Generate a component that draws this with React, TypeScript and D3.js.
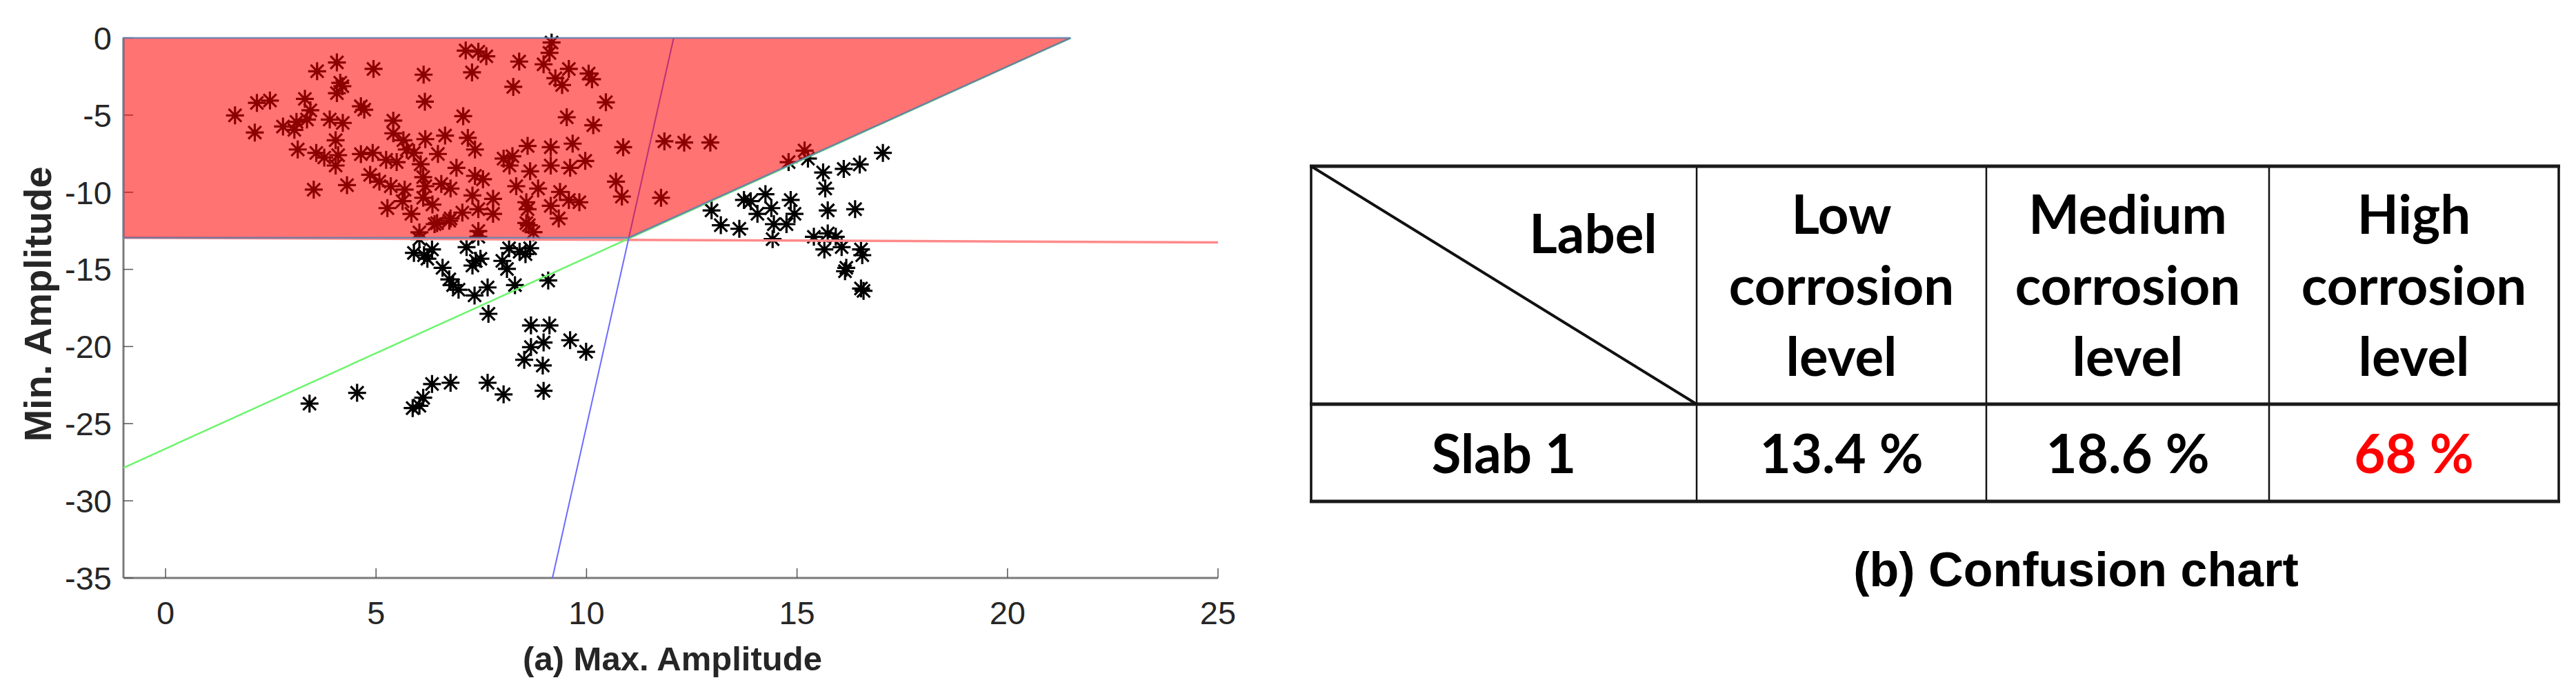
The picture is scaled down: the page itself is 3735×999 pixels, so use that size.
import React from 'react';
import * as d3 from 'd3';

const W = 3735;
const H = 999;

// ---------- data (a): scatter of (Max. Amplitude, Min. Amplitude) ----------
const upperPoints: [number, number][] = [
  [1.65, -5.02], [2.17, -4.21], [2.48, -4.06], [2.12, -6.13], [2.79, -5.74], [3.06, -5.96],
  [3.11, -5.44], [3.36, -5.29], [3.44, -4.69], [3.31, -3.95], [3.6, -2.16], [4.07, -1.59],
  [4.15, -2.91], [4.2, -3.13], [4.07, -3.58], [4.94, -2.01], [6.13, -2.38], [6.16, -4.13],
  [4.64, -4.43], [4.72, -4.65], [3.9, -5.29], [4.21, -5.51], [4.04, -6.63], [3.14, -7.23],
  [3.58, -7.45], [3.77, -7.75], [4.1, -7.6], [4.04, -8.27], [3.52, -9.83], [4.31, -9.54],
  [4.64, -7.53], [4.92, -7.45], [5.24, -7.9], [5.49, -8.05], [5.41, -5.36], [5.41, -6.18],
  [5.65, -6.63], [5.73, -7.23], [5.9, -7.45], [6.17, -6.56], [6.64, -6.33], [6.47, -7.52],
  [6.06, -8.19], [7.07, -5.07], [7.18, -6.48], [7.35, -7.23], [6.91, -8.42], [4.86, -8.87],
  [5.08, -9.31], [5.35, -9.61], [5.68, -9.83], [6.12, -9.02], [6.17, -9.61], [6.55, -9.46],
  [6.77, -9.76], [7.35, -8.94], [7.54, -9.16], [7.29, -10.21], [7.78, -10.43], [8.03, -7.82],
  [8.17, -8.27], [8.33, -9.61], [8.6, -7.0], [8.66, -8.64], [5.27, -11.03], [5.63, -10.58],
  [5.84, -11.4], [6.34, -10.8], [6.45, -12.0], [6.77, -11.7], [7.05, -11.32], [7.43, -12.52],
  [7.43, -11.1], [7.78, -11.4], [8.57, -10.65], [8.57, -12.0], [6.03, -12.6], [7.13, -0.82],
  [7.43, -0.89], [7.62, -1.19], [8.4, -1.53], [7.28, -2.23], [8.26, -3.17], [6.39, -12.07],
  [6.74, -11.85], [6.12, -10.36],
  [9.17, -0.3], [9.12, -0.97], [8.98, -1.71], [9.58, -2.01], [9.26, -2.61], [9.42, -3.05],
  [10.05, -2.31], [10.13, -2.68], [10.46, -4.17], [9.53, -5.14], [10.16, -5.66], [9.15, -7.08],
  [9.67, -6.85], [10.87, -7.08], [9.15, -8.27], [9.61, -8.42], [9.97, -7.97], [8.24, -7.67],
  [8.85, -9.76], [9.37, -9.98], [9.58, -10.5], [9.83, -10.65], [9.15, -10.88], [8.6, -11.1],
  [9.34, -11.7], [8.63, -12.14], [10.7, -9.31], [10.84, -10.28], [11.85, -6.7], [12.32, -6.78],
  [12.94, -6.78], [11.77, -10.36], [8.74, -12.59],
];

const lowerPoints: [number, number][] = [
  [6.03, -13.04], [5.9, -13.93], [6.14, -14.08], [6.33, -13.71], [6.22, -14.31], [6.58, -14.9],
  [6.74, -15.65], [6.83, -16.02], [6.96, -16.32], [7.34, -16.69], [7.65, -16.17], [7.15, -13.56],
  [7.37, -14.45], [7.48, -14.31], [7.29, -14.75], [7.43, -12.89], [8.16, -13.63], [8.41, -13.86],
  [8.66, -13.63], [8.55, -14.01], [8.0, -14.45], [8.11, -14.97], [8.3, -16.02], [9.09, -15.72],
  [7.67, -17.88], [8.68, -18.63], [9.12, -18.63], [8.98, -19.74], [8.68, -20.04], [8.52, -20.86],
  [8.96, -21.23], [9.61, -19.59], [9.99, -20.34], [6.33, -22.43], [6.77, -22.35], [7.65, -22.35],
  [8.03, -23.1], [8.98, -22.87], [6.12, -23.32], [5.87, -23.99], [6.03, -23.84], [4.55, -23.0],
  [3.42, -23.7],
];

const rightPoints: [number, number][] = [
  [15.18, -7.3], [14.8, -8.05], [15.26, -7.82], [17.04, -7.45], [15.62, -8.72], [16.11, -8.49],
  [16.49, -8.2], [15.67, -9.76], [15.73, -11.18], [16.38, -11.1], [12.97, -11.18], [13.19, -12.14],
  [13.63, -12.37], [13.74, -10.5], [13.9, -10.58], [14.25, -10.13], [14.06, -11.4], [14.39, -11.03],
  [14.85, -10.5], [14.94, -11.4], [14.45, -12.07], [14.75, -12.07], [14.42, -13.04], [15.4, -12.89],
  [15.73, -12.67], [15.92, -12.89], [15.65, -13.71], [16.06, -13.56], [16.52, -13.71], [16.55, -14.08],
  [16.17, -14.9], [16.14, -15.12], [16.52, -16.24], [16.58, -16.39],
];

// decision boundaries and region
const greenBoundary: [number, number][] = [[-1, -27.86], [21.5, 0]];
const blueBoundary: [number, number][] = [[9.19, -35], [12.07, 0]];
const redBoundary: [number, number][] = [[-1, -12.95], [25, -13.25]];
const highRegion: [number, number][] = [[-1, 0], [21.5, 0], [11.0, -12.95], [-1, -12.95]];

const xTicks = [0, 5, 10, 15, 20, 25];
const yTicks = [0, -5, -10, -15, -20, -25, -30, -35];

// ---------- data (b): confusion chart ----------
const headerLabel = 'Label';
const classNames: string[][] = [
  ['Low', 'corrosion', 'level'],
  ['Medium', 'corrosion', 'level'],
  ['High', 'corrosion', 'level'],
];
const rowLabel = 'Slab 1';
const rowValues = ['13.4 %', '18.6 %', '68 %'];
const highlightIndex = 2;

function asterisk(r: number): string {
  const p = d3.path();
  const d = r * 0.72;
  p.moveTo(-r, 0); p.lineTo(r, 0);
  p.moveTo(0, -r); p.lineTo(0, r);
  p.moveTo(-d, -d); p.lineTo(d, d);
  p.moveTo(-d, d); p.lineTo(d, -d);
  return p.toString();
}

export default function App() {
  const x = d3.scaleLinear().domain([-1, 25]).range([179, 1766]);
  const y = d3.scaleLinear().domain([-35, 0]).range([838, 55]);
  const line = d3.line<[number, number]>().x(d => x(d[0])).y(d => y(d[1]));
  const star = asterisk(13);
  const allPoints = [...upperPoints, ...lowerPoints, ...rightPoints];

  const axisColor = '#7a7a7a';
  const textColor = '#262626';

  // table geometry
  const colX = [1901, 2460, 2880, 3290, 3710];
  const tTop = 241, tMid = 586, tBot = 727;
  const tFont = 'Lato, "Open Sans", sans-serif';

  return (
    <svg width={W} height={H} style={{ position: 'absolute', left: 0, top: 0, background: '#fff' }}
      xmlns="http://www.w3.org/2000/svg">
      <rect width={W} height={H} fill="#fff" />
      {/* ---------- panel (a) ---------- */}
      <g fontFamily='"Liberation Sans", Arial, sans-serif'>
        {/* axes */}
        <line x1={x(-1)} x2={x(-1)} y1={y(0)} y2={y(-35)} stroke={axisColor} strokeWidth={3} />
        <line x1={x(-1)} x2={x(25)} y1={y(-35)} y2={y(-35)} stroke={axisColor} strokeWidth={3} />
        {yTicks.map(t => (
          <g key={'yt' + t}>
            <line x1={x(-1)} x2={x(-1) + 14} y1={y(t)} y2={y(t)} stroke="#555" strokeWidth={1.5} />
            <text x={162} y={y(t)} dy="0.36em" textAnchor="end" fontSize={47} fill={textColor}>{t}</text>
          </g>
        ))}
        {xTicks.map(t => (
          <g key={'xt' + t}>
            <line x1={x(t)} x2={x(t)} y1={y(-35)} y2={y(-35) - 14} stroke="#555" strokeWidth={1.5} />
            <text x={x(t)} y={905} textAnchor="middle" fontSize={47} fill={textColor}>{t}</text>
          </g>
        ))}
        <text x={975} y={972} textAnchor="middle" fontSize={49} fontWeight="bold" fill={textColor}>
          (a) Max. Amplitude
        </text>
        <text transform={`translate(74,441) rotate(-90)`} textAnchor="middle" fontSize={56}
          fontWeight="bold" fill={textColor}>
          Min. Amplitude
        </text>

        {/* points */}
        {allPoints.map((p, i) => (
          <path key={'p' + i} d={star} transform={`translate(${x(p[0])},${y(p[1])})`}
            stroke="#000" strokeWidth={3.2} fill="none" />
        ))}

        {/* boundaries */}
        <path d={line(redBoundary) || ''} stroke="#ff8a8a" strokeWidth={3.5} fill="none" />
        <path d={line(greenBoundary) || ''} stroke="#6cf56c" strokeWidth={2.5} fill="none" />
        <path d={line(blueBoundary) || ''} stroke="#6b6bff" strokeWidth={2} fill="none" />

        {/* high corrosion region */}
        <path d={(line(highRegion) || '') + 'Z'} fill="#ff0000" fillOpacity={0.55}
          stroke="#5f7fae" strokeOpacity={0.85} strokeWidth={2.5} />
      </g>

      {/* ---------- panel (b) ---------- */}
      <g fontFamily={tFont} fontWeight="bold" fill="#000">
        {/* vertical lines */}
        {colX.map((cx, i) => (
          <line key={'v' + i} x1={cx} x2={cx} y1={tTop} y2={tBot} stroke="#111"
            strokeWidth={i === 0 || i === colX.length - 1 ? 3.5 : 2.5} />
        ))}
        <line x1={colX[0] - 2} x2={colX[4] + 2} y1={tTop} y2={tTop} stroke="#1a1a1a" strokeWidth={5} />
        <line x1={colX[0] - 2} x2={colX[4] + 2} y1={tMid} y2={tMid} stroke="#1a1a1a" strokeWidth={5} />
        <line x1={colX[0] - 2} x2={colX[4] + 2} y1={tBot} y2={tBot} stroke="#1a1a1a" strokeWidth={5} />
        {/* diagonal */}
        <line x1={colX[0]} y1={tTop} x2={colX[1]} y2={tMid} stroke="#111" strokeWidth={4} />
        <text x={2310} y={367} textAnchor="middle" fontSize={78}>{headerLabel}</text>
        {classNames.map((lines, ci) => {
          const cx = (colX[ci + 1] + colX[ci + 2]) / 2;
          return lines.map((t, li) => (
            <text key={`h${ci}-${li}`} x={cx} y={339 + li * 103} textAnchor="middle" fontSize={78}>{t}</text>
          ));
        })}
        <text x={(colX[0] + colX[1]) / 2} y={686} textAnchor="middle" fontSize={78}>{rowLabel}</text>
        {rowValues.map((v, i) => (
          <text key={'rv' + i} x={(colX[i + 1] + colX[i + 2]) / 2} y={686} textAnchor="middle" fontSize={78}
            fill={i === highlightIndex ? '#ff0000' : '#000'}>{v}</text>
        ))}
        <text x={3010} y={850} textAnchor="middle" fontSize={70}
          fontFamily='"Liberation Sans", Arial, sans-serif'>(b) Confusion chart</text>
      </g>
    </svg>
  );
}
